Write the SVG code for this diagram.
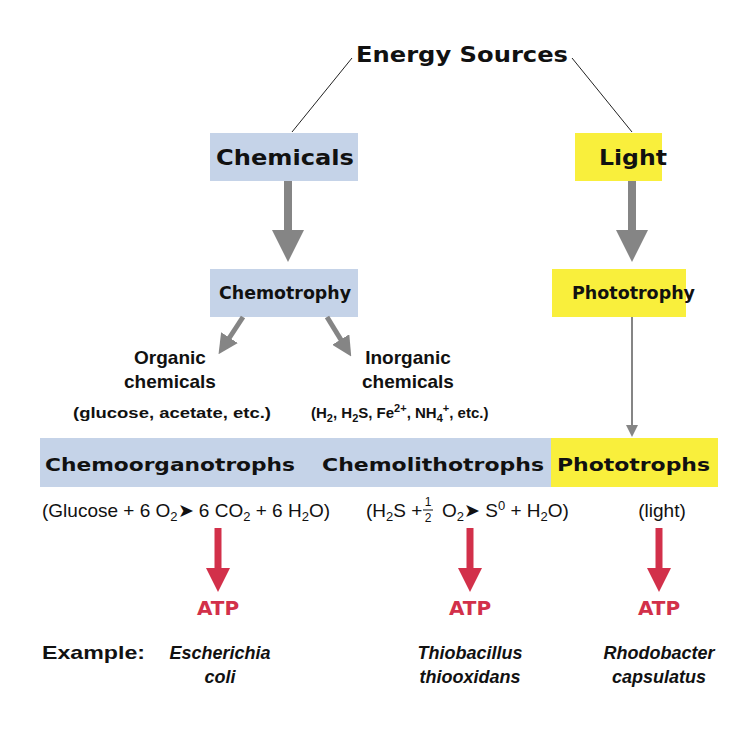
<svg xmlns="http://www.w3.org/2000/svg" width="756" height="750" viewBox="0 0 756 750">
<defs>
<style>
text{font-family:"Liberation Sans",Arial,sans-serif;fill:#111;}
.b{font-weight:bold}
.big{font-family:"DejaVu Sans","Liberation Sans",sans-serif;font-weight:bold;font-size:22px}
.mid{font-family:"DejaVu Sans","Liberation Sans",sans-serif;font-weight:bold;font-size:17px}
.lab{font-weight:bold;font-size:19px}
.eq{font-size:19px}
.atp{font-family:"DejaVu Sans",sans-serif;font-weight:bold;font-size:20px;fill:#d2304a}
.it{font-weight:bold;font-style:italic;font-size:18px}
.blue{fill:#c5d3e8}.yel{fill:#f9ef3c}
</style>
<marker id="g" markerWidth="4" markerHeight="4" refX="2" refY="2" orient="auto" markerUnits="strokeWidth"><path d="M0,0L4,2L0,4Z" fill="#858585"/></marker>
<marker id="gs" markerWidth="6" markerHeight="6" refX="5" refY="3" orient="auto" markerUnits="strokeWidth"><path d="M0,0L6,3L0,6Z" fill="#858585"/></marker>
<marker id="r" markerWidth="3.5" markerHeight="3.5" refX="1.5" refY="1.75" orient="auto" markerUnits="strokeWidth"><path d="M0,0L3.5,1.75L0,3.5Z" fill="#d2304a"/></marker>
</defs>
<rect width="756" height="750" fill="#fff"/>
<g id="energy"><text x="356" y="62" class="big" textLength="212" lengthAdjust="spacingAndGlyphs">Energy Sources</text></g>
<g id="chemicals"><rect x="210" y="133" width="148" height="48" class="blue"/><text x="216" y="165" class="big" textLength="138" lengthAdjust="spacingAndGlyphs">Chemicals</text></g>
<g id="light"><rect x="575" y="133" width="87" height="48" class="yel"/><text x="599" y="165" class="big" textLength="68" lengthAdjust="spacingAndGlyphs">Light</text></g>
<g id="chemotrophy"><rect x="210" y="269" width="148" height="48" class="blue"/><text x="219" y="299" class="mid" textLength="132" lengthAdjust="spacingAndGlyphs">Chemotrophy</text></g>
<g id="phototrophy"><rect x="552" y="269" width="134" height="48" class="yel"/><text x="572" y="299" class="mid" textLength="123" lengthAdjust="spacingAndGlyphs">Phototrophy</text></g>
<g id="organic"><text x="170" y="364" class="lab" text-anchor="middle">Organic</text><text x="170" y="388" class="lab" text-anchor="middle">chemicals</text><text x="73" y="418" font-size="15" class="b" textLength="198" lengthAdjust="spacingAndGlyphs">(glucose, acetate, etc.)</text></g>
<g id="inorganic"><text x="408" y="364" class="lab" text-anchor="middle">Inorganic</text><text x="408" y="388" class="lab" text-anchor="middle">chemicals</text>
<text x="311" y="418" font-size="15" class="b">(H<tspan font-size="11" dy="4">2</tspan><tspan dy="-4">, H</tspan><tspan font-size="11" dy="4">2</tspan><tspan dy="-4">S, Fe</tspan><tspan font-size="11" dy="-6">2+</tspan><tspan dy="6">, NH</tspan><tspan font-size="11" dy="4">4</tspan><tspan font-size="11" dy="-10">+</tspan><tspan dy="6">, etc.)</tspan></text></g>
<g id="bar"><rect x="40" y="438" width="511" height="49" class="blue"/><rect x="551" y="438" width="167" height="49" class="yel"/>
<text x="45" y="471" class="mid" font-size="19" textLength="250" lengthAdjust="spacingAndGlyphs">Chemoorganotrophs</text>
<text x="322" y="471" class="mid" font-size="19" textLength="222" lengthAdjust="spacingAndGlyphs">Chemolithotrophs</text>
<text x="557" y="471" class="mid" font-size="19" textLength="153" lengthAdjust="spacingAndGlyphs">Phototrophs</text></g>
<g id="equations">
<text x="42" y="517" class="eq">(Glucose + 6 O<tspan font-size="13" dy="4">2</tspan><tspan dy="-4">➤ 6 CO</tspan><tspan font-size="13" dy="4">2</tspan><tspan dy="-4"> + 6 H</tspan><tspan font-size="13" dy="4">2</tspan><tspan dy="-4">O)</tspan></text>
<text x="366" y="517" class="eq">(H<tspan font-size="13" dy="4">2</tspan><tspan dy="-4">S +</tspan></text>
<text x="428" y="506" font-size="12" text-anchor="middle">1</text><line x1="423" y1="510" x2="433" y2="510" stroke="#111" stroke-width="1"/><text x="428" y="522" font-size="12" text-anchor="middle">2</text>
<text x="442" y="517" class="eq">O<tspan font-size="13" dy="4">2</tspan><tspan dy="-4">➤ S</tspan><tspan font-size="13" dy="-7">0</tspan><tspan dy="7"> + H</tspan><tspan font-size="13" dy="4">2</tspan><tspan dy="-4">O)</tspan></text>
<text x="662" y="517" class="eq" text-anchor="middle">(light)</text></g>
<g id="atp1"><text x="218" y="615" class="atp" text-anchor="middle">ATP</text></g>
<g id="atp2"><text x="470" y="615" class="atp" text-anchor="middle">ATP</text></g>
<g id="atp3"><text x="659" y="615" class="atp" text-anchor="middle">ATP</text></g>
<g id="examples">
<text x="42" y="659" class="b" font-size="19" textLength="103" lengthAdjust="spacingAndGlyphs">Example:</text>
<text x="220" y="659" class="it" text-anchor="middle">Escherichia</text><text x="220" y="683" class="it" text-anchor="middle">coli</text>
<text x="470" y="659" class="it" text-anchor="middle">Thiobacillus</text><text x="470" y="683" class="it" text-anchor="middle">thiooxidans</text>
<text x="659" y="659" class="it" text-anchor="middle">Rhodobacter</text><text x="659" y="683" class="it" text-anchor="middle">capsulatus</text></g>
<g id="connectors">
<line x1="352" y1="58" x2="292" y2="132" stroke="#222" stroke-width="1"/>
<line x1="572" y1="58" x2="632" y2="132" stroke="#222" stroke-width="1"/>
<line x1="288" y1="181" x2="288" y2="246" stroke="#858585" stroke-width="8" marker-end="url(#g)"/>
<line x1="632" y1="181" x2="632" y2="246" stroke="#858585" stroke-width="8" marker-end="url(#g)"/>
<line x1="243" y1="317" x2="224" y2="346" stroke="#858585" stroke-width="5" marker-end="url(#g)"/>
<line x1="327" y1="317" x2="346" y2="348" stroke="#858585" stroke-width="5" marker-end="url(#g)"/>
<line x1="632" y1="317" x2="632" y2="435" stroke="#858585" stroke-width="2" marker-end="url(#gs)"/>
<line x1="218" y1="528" x2="218" y2="578" stroke="#d2304a" stroke-width="7" marker-end="url(#r)"/>
<line x1="470" y1="528" x2="470" y2="578" stroke="#d2304a" stroke-width="7" marker-end="url(#r)"/>
<line x1="659" y1="528" x2="659" y2="578" stroke="#d2304a" stroke-width="7" marker-end="url(#r)"/>
</g>
</svg>
